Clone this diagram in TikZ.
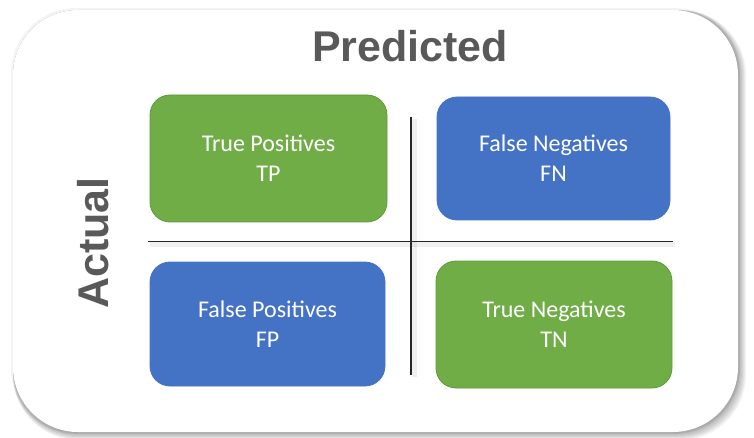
\documentclass[tikz,border=0pt]{standalone}
\usepackage{fontspec}
\setmainfont{Liberation Sans}
\newfontfamily\carlito{Carlito}
\definecolor{cmgreen}{HTML}{70AD47}
\definecolor{cmgreenborder}{HTML}{5E9A38}
\definecolor{cmblue}{HTML}{4472C4}
\definecolor{cmtitle}{HTML}{595959}
\definecolor{cmline}{HTML}{262626}
\tikzset{
  cell/.style={rounded corners=20pt, align=center, text=white,
    font=\carlito\fontsize{24}{30}\selectfont},
  poscell/.style={cell, fill=cmgreen, draw=cmgreenborder, line width=0.8pt},
  negcell/.style={cell, fill=cmblue, draw=cmblue, line width=0.8pt},
  axislabel/.style={text=cmtitle, font=\bfseries\fontsize{43}{50}\selectfont},
  divider/.style={draw=cmline, line width=1.6pt},
  dividershadow/.style={draw=black, line width=5pt, opacity=0.06},
  panelshadow/.style={fill=black, opacity=0.045, rounded corners=65pt},
}
\begin{document}
\begin{tikzpicture}[x=1pt,y=-1pt]
\useasboundingbox[fill=white] (0,0) rectangle (754,438);
% outer panel shadow
\foreach \s in {0,1,...,8}{
  \path[panelshadow] (13,10) rectangle (738+\s,432+\s);
}
\path[panelshadow] (11,8) rectangle (740,434);
% outer panel
\path[fill=white, rounded corners=65pt] (13,10) rectangle (738,432);
% titles
\node[axislabel, anchor=base] (pred) at (410,62) {Predicted};
\node[axislabel, rotate=90, anchor=base] (act) at (108,243) {Actual};
% dividers
\coordinate (hl) at (148,241.5);
\coordinate (hr) at (673,241.5);
\coordinate (vt) at (411,117);
\coordinate (vb) at (411,375);
\coordinate (hls) at (150,244);
\coordinate (hrs) at (675,244);
\coordinate (vts) at (414,119);
\coordinate (vbs) at (414,377);
\path[dividershadow] (hls) -- (hrs);
\path[dividershadow] (vts) -- (vbs);
\path[divider] (hl) -- (hr);
\path[divider] (vt) -- (vb);
% cells
\path[poscell] (150,95) rectangle (387,222) node[midway] (tp) {True Positives\\TP};
\path[negcell] (437,97) rectangle (670,220) node[midway] (fn) {False Negatives\\FN};
\path[negcell] (150,262) rectangle (385,386) node[midway] (fp) {False Positives\\FP};
\path[poscell] (436,261) rectangle (672,388) node[midway] (tn) {True Negatives\\TN};
\end{tikzpicture}
\end{document}
